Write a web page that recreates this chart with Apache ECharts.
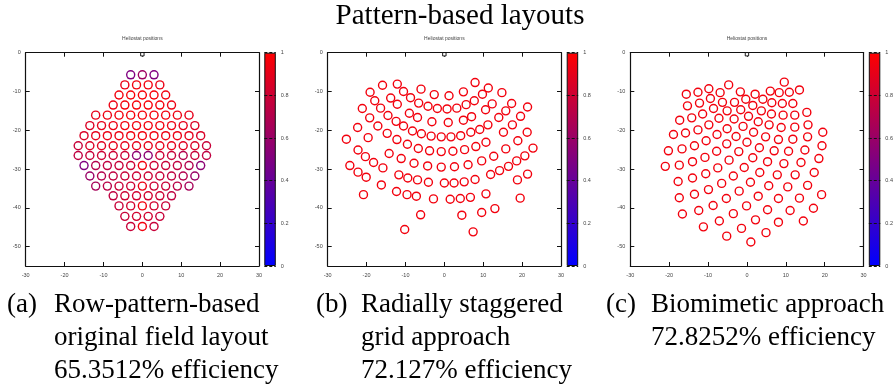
<!DOCTYPE html>
<html>
<head>
<meta charset="utf-8">
<script src="https://cdn.jsdelivr.net/npm/echarts@6/dist/echarts.min.js"></script>
<style>
  html, body { margin: 0; padding: 0; background: #fff; }
  #chart { width: 896px; height: 388px; }
</style>
</head>
<body>
<div id="chart"></div>
<script>
// ---------------------------------------------------------------------------
// Heliostat field layouts, coordinates in metres relative to the tower.
// ---------------------------------------------------------------------------

// (a) row pattern: [x, y, efficiency]
const fieldA = [
  [-3, -5.7, 0.50], [0, -5.7, 0.62], [3, -5.7, 0.50],
  [-4.5, -8.3, 0.92], [-1.5, -8.3, 0.95], [1.5, -8.3, 0.95], [4.5, -8.3, 0.92],
  [-6, -10.9, 0.95], [-3, -10.9, 0.97], [0, -10.9, 0.97], [3, -10.9, 0.97], [6, -10.9, 0.95],
  [-7.5, -13.5, 0.93], [-4.5, -13.5, 0.96], [-1.5, -13.5, 0.97], [1.5, -13.5, 0.97], [4.5, -13.5, 0.96], [7.5, -13.5, 0.93],
  [-12, -16.1, 0.90], [-9, -16.1, 0.93], [-6, -16.1, 0.95], [-3, -16.1, 0.96], [0, -16.1, 0.96], [3, -16.1, 0.96], [6, -16.1, 0.95], [9, -16.1, 0.93], [12, -16.1, 0.90],
  [-13.5, -18.8, 0.86], [-10.5, -18.8, 0.90], [-7.5, -18.8, 0.93], [-4.5, -18.8, 0.95], [-1.5, -18.8, 0.95], [1.5, -18.8, 0.95], [4.5, -18.8, 0.95], [7.5, -18.8, 0.93], [10.5, -18.8, 0.90], [13.5, -18.8, 0.86],
  [-15, -21.4, 0.85], [-12, -21.4, 0.90], [-9, -21.4, 0.92], [-6, -21.4, 0.93], [-3, -21.4, 0.94], [0, -21.4, 0.95], [3, -21.4, 0.94], [6, -21.4, 0.93], [9, -21.4, 0.92], [12, -21.4, 0.90], [15, -21.4, 0.85],
  [-16.5, -24.0, 0.78], [-13.5, -24.0, 0.85], [-10.5, -24.0, 0.88], [-7.5, -24.0, 0.90], [-4.5, -24.0, 0.90], [-1.5, -24.0, 0.90], [1.5, -24.0, 0.90], [4.5, -24.0, 0.90], [7.5, -24.0, 0.90], [10.5, -24.0, 0.88], [13.5, -24.0, 0.85], [16.5, -24.0, 0.78],
  [-16.5, -26.5, 0.75], [-13.5, -26.5, 0.78], [-10.5, -26.5, 0.80], [-7.5, -26.5, 0.80], [-4.5, -26.5, 0.80], [-1.5, -26.5, 0.55], [1.5, -26.5, 0.55], [4.5, -26.5, 0.80], [7.5, -26.5, 0.78], [10.5, -26.5, 0.70], [13.5, -26.5, 0.78], [16.5, -26.5, 0.75],
  [-15, -29.1, 0.50], [-12, -29.1, 0.70], [-9, -29.1, 0.75], [-6, -29.1, 0.78], [-3, -29.1, 0.80], [0, -29.1, 0.95], [3, -29.1, 0.80], [6, -29.1, 0.78], [9, -29.1, 0.75], [12, -29.1, 0.70], [15, -29.1, 0.55],
  [-13.5, -31.8, 0.60], [-10.5, -31.8, 0.70], [-7.5, -31.8, 0.75], [-4.5, -31.8, 0.78], [-1.5, -31.8, 0.80], [1.5, -31.8, 0.80], [4.5, -31.8, 0.78], [7.5, -31.8, 0.75], [10.5, -31.8, 0.70], [13.5, -31.8, 0.60],
  [-12, -34.4, 0.65], [-9, -34.4, 0.72], [-6, -34.4, 0.78], [-3, -34.4, 0.80], [0, -34.4, 0.92], [3, -34.4, 0.80], [6, -34.4, 0.78], [9, -34.4, 0.72], [12, -34.4, 0.65],
  [-7.5, -36.9, 0.75], [-4.5, -36.9, 0.80], [-1.5, -36.9, 0.82], [1.5, -36.9, 0.82], [4.5, -36.9, 0.80], [7.5, -36.9, 0.75],
  [-6, -39.5, 0.78], [-3, -39.5, 0.82], [0, -39.5, 0.95], [3, -39.5, 0.82], [6, -39.5, 0.78],
  [-4.5, -42.2, 0.78], [-1.5, -42.2, 0.82], [1.5, -42.2, 0.82], [4.5, -42.2, 0.78],
  [-3, -44.8, 0.78], [0, -44.8, 0.95], [3, -44.8, 0.78]
];

// (b) radially staggered grid: [x, y]
const fieldB = [
  [-15.9, -8.4], [-12.1, -8.1], [-6.0, -9.4], [-2.6, -10.8], [1.2, -11.1], [4.9, -10.1], [7.9, -7.7], [11.3, -9.1], [14.8, -10.3],
  [-19.1, -10.2], [-10.5, -10.0],
  [-17.9, -12.4], [-13.8, -11.7], [-12.1, -13.3], [-8.7, -11.6], [-6.6, -13.0], [-4.2, -13.8], [-1.8, -14.4], [0.7, -14.5],
  [3.2, -14.3], [5.6, -13.4], [7.7, -12.4], [9.8, -10.7], [12.3, -13.2], [17.3, -13.1], [21.4, -14.0],
  [-21.1, -14.4], [-16.4, -14.3], [-14.5, -16.2], [-12.4, -17.7], [-9.0, -15.6], [-6.9, -16.7], [-3.2, -17.8], [1.0, -18.0],
  [4.9, -17.4], [7.0, -16.5], [10.6, -14.7], [11.2, -18.6], [15.8, -15.0], [14.0, -16.7], [19.6, -16.4], [17.5, -18.6],
  [-22.3, -19.3], [-19.2, -16.8], [-17.1, -18.9], [-14.7, -20.8], [-10.5, -18.9], [-8.2, -20.2], [-5.9, -20.9], [-3.4, -21.5],
  [-0.8, -21.7], [1.7, -21.7], [4.2, -21.4], [6.8, -20.5], [9.1, -19.8], [15.2, -20.5], [21.3, -20.5],
  [-25.2, -22.3], [-19.6, -21.9], [-12.2, -22.4], [-9.5, -23.6], [-6.7, -24.7], [-3.8, -25.3], [-0.8, -25.5], [2.2, -25.4],
  [5.2, -25.0], [8.1, -24.2], [10.7, -23.1], [15.8, -24.8], [18.9, -22.7], [22.8, -24.6],
  [-22.2, -25.1], [-20.3, -26.8], [-18.2, -28.3], [-14.2, -26.0], [-11.1, -27.3], [-7.8, -28.5], [-4.3, -29.2], [-0.8, -29.5],
  [2.6, -29.4], [6.1, -28.9], [9.6, -27.9], [12.7, -26.7], [18.6, -27.9], [20.7, -26.6],
  [-24.3, -29.1], [-22.2, -30.8], [-20.1, -32.1], [-15.8, -29.7], [-11.7, -31.5], [-9.4, -32.3], [-6.9, -32.8], [-4.1, -33.4],
  [0.0, -33.6], [2.5, -33.6], [5.1, -33.3], [7.9, -32.7], [11.9, -31.4], [14.2, -30.4], [16.5, -29.3], [18.8, -32.8], [21.4, -31.3],
  [-20.8, -36.6], [-16.2, -34.1], [-12.3, -35.8], [-9.6, -36.6], [-7.2, -37.0], [-2.8, -37.7], [1.5, -37.8], [4.1, -37.6],
  [6.7, -37.3], [10.7, -36.4], [19.5, -37.5],
  [-6.1, -41.8], [4.5, -41.9], [9.6, -41.2], [13.0, -40.2],
  [-10.2, -45.6], [7.4, -46.2]
];

// (c) biomimetic spiral: [x, y]
const fieldC = [
  [-15.6, -10.7], [-12.6, -10.2], [-9.8, -9.3], [-6.9, -10.3], [-4.7, -8.3], [-1.7, -10.1], [2.1, -10.7], [6.0, -9.9],
  [8.3, -10.3], [9.6, -7.6], [10.9, -10.2], [13.5, -9.6],
  [-15.3, -13.7], [-12.2, -13.0], [-9.4, -11.8], [-6.3, -12.8], [-3.2, -12.8], [-0.3, -12.0], [1.5, -13.6], [4.1, -12.0],
  [6.4, -12.9], [9.1, -13.1], [11.8, -13.1],
  [-17.3, -17.4], [-14.2, -16.8], [-11.4, -15.8], [-8.6, -14.4], [-5.1, -15.0], [-1.6, -14.7], [0.4, -16.4], [3.7, -15.0],
  [6.3, -15.8], [9.3, -16.1], [12.3, -16.1], [15.4, -15.4],
  [-18.9, -21.1], [-15.8, -20.7], [-12.6, -19.9], [-9.8, -18.6], [-7.2, -16.9], [-3.3, -17.1], [-1.0, -19.0], [2.9, -17.8],
  [5.7, -18.6], [8.8, -19.3], [12.3, -19.2], [15.7, -18.6], [19.5, -20.5],
  [-20.2, -25.3], [-16.7, -24.8], [-13.5, -24.0], [-10.5, -22.7], [-7.7, -21.1], [-5.1, -19.6], [-2.8, -21.6], [0.0, -23.1],
  [1.7, -20.5], [4.8, -21.7], [8.1, -22.4], [11.8, -22.3], [15.6, -21.7], [19.3, -24.0],
  [-7.8, -25.4], [-5.2, -23.5], [-2.1, -25.5], [3.2, -24.5], [7.0, -25.3], [10.7, -25.4], [14.9, -25.1],
  [-21.0, -29.3], [-17.4, -29.0], [-14.0, -28.1], [-10.8, -27.0], [-7.5, -29.7], [-4.6, -27.7], [-0.7, -29.6], [1.5, -27.1],
  [5.3, -28.1], [9.5, -28.6], [13.9, -28.3], [18.5, -27.3],
  [-17.7, -33.2], [-14.0, -32.3], [-10.6, -31.2], [-6.5, -33.7], [-3.5, -31.8], [0.9, -33.4], [3.3, -30.9], [7.8, -31.5],
  [12.4, -31.5], [17.3, -30.9],
  [-17.4, -37.4], [-13.5, -36.5], [-9.9, -35.3], [-5.3, -37.6], [-2.0, -35.7], [2.9, -37.0], [5.6, -34.3], [8.1, -37.6],
  [10.5, -34.6], [13.5, -37.5], [15.6, -34.2], [19.2, -36.6],
  [-16.6, -41.6], [-12.4, -40.7], [-8.7, -39.4], [-3.5, -41.5], [-0.1, -39.5], [5.3, -40.5], [11.1, -40.7], [17.1, -40.1],
  [-11.2, -44.9], [-7.1, -43.4], [-1.4, -45.3], [2.2, -43.1], [8.1, -43.7], [14.5, -43.4],
  [-5.2, -47.3], [4.9, -46.4],
  [1.0, -48.8]
];

// Tower position
const tower = [[0, -0.4]];

// Axis ticks and colour scale
const xRange = [-30, 30];
const yRange = [-55, 0];
const yTickValues = [0, -10, -20, -30, -40, -50];
const colorbarRange = [0, 1];
const colormap = ['#0000ff', '#ff0000'];
const uniformEfficiencyColor = '#f2000d';

// Texts
const mainTitle = 'Pattern-based layouts';
const panelTitle = 'Heliostat positions';
const captionTags = ['(a)', '(b)', '(c)'];
const captionLines = [
  ['Row-pattern-based', 'original field layout', '65.3512% efficiency'],
  ['Radially staggered', 'grid approach', '72.127% efficiency'],
  ['Biomimetic approach', '72.8252% efficiency']
];

// ---------------------------------------------------------------------------
// Layout
// ---------------------------------------------------------------------------
const plotLefts = [25.7, 327.7, 630.3];
const barLefts = [264.3, 566.7, 868.8];
const plotTop = 52.7, plotW = 233.3, plotH = 213.3, barW = 11.5;
const tagLefts = [7, 316, 606];
const blockLefts = [54, 361, 651];
const lineCenters = [305, 338, 371];
const ringOuter = 9.4, ringInner = 6.6;

const tickFont = { fontSize: 5.5, color: '#444', fontFamily: 'Liberation Sans' };
const frameLine = { show: true, onZero: false, lineStyle: { color: '#111', width: 1.2 } };
const tickStyle = { inside: true, length: 4, lineStyle: { color: '#111' } };

const grids = [], xAxes = [], yAxes = [], series = [];
const fields = [fieldA, fieldB, fieldC];

fields.forEach((pts, p) => {
  grids.push({ left: plotLefts[p], top: plotTop, width: plotW, height: plotH });
  const common = { gridIndex: p, type: 'value', splitLine: { show: false }, axisLine: frameLine };
  xAxes.push(Object.assign({}, common, {
    position: 'bottom', min: xRange[0], max: xRange[1], interval: 10,
    axisTick: tickStyle,
    axisLabel: Object.assign({ margin: 6 }, tickFont)
  }));
  xAxes.push(Object.assign({}, common, {
    position: 'top', min: xRange[0], max: xRange[1], interval: 10,
    axisTick: tickStyle, axisLabel: { show: false }
  }));
  yAxes.push(Object.assign({}, common, {
    position: 'left', min: yRange[0], max: yRange[1],
    axisTick: Object.assign({ customValues: yTickValues }, tickStyle),
    axisLabel: Object.assign({ margin: 5, customValues: yTickValues }, tickFont)
  }));
  yAxes.push(Object.assign({}, common, {
    position: 'right', min: yRange[0], max: yRange[1],
    axisTick: Object.assign({ customValues: yTickValues }, tickStyle),
    axisLabel: { show: false }
  }));
});

// (a) rings: a disc coloured by the efficiency scale, with a white core on top
series.push({
  type: 'scatter', xAxisIndex: 0, yAxisIndex: 0, data: fieldA,
  symbol: 'circle', symbolSize: ringOuter, clip: false, silent: true,
  itemStyle: { opacity: 1 }
});
series.push({
  type: 'scatter', xAxisIndex: 0, yAxisIndex: 0, data: fieldA,
  symbol: 'circle', symbolSize: ringInner, clip: false, silent: true,
  itemStyle: { color: '#fff', opacity: 1 }
});
// (b), (c) rings
[[fieldB, 2], [fieldC, 4]].forEach(function (f) {
  series.push({
    type: 'scatter', xAxisIndex: f[1], yAxisIndex: f[1], data: f[0],
    symbol: 'circle', symbolSize: (ringOuter + ringInner) / 2, clip: false, silent: true,
    itemStyle: {
      color: 'rgba(0,0,0,0)', borderColor: uniformEfficiencyColor,
      borderWidth: (ringOuter - ringInner) / 2, opacity: 1
    }
  });
});
// towers
[0, 2, 4].forEach(function (ax) {
  series.push({
    type: 'scatter', xAxisIndex: ax, yAxisIndex: ax, data: tower, z: 5,
    symbol: 'rect', symbolSize: 3.4, clip: false, silent: true,
    itemStyle: { color: '#fff', borderColor: '#000', borderWidth: 0.9, opacity: 1 }
  });
});

// colour bars
const gradient = new echarts.graphic.LinearGradient(0, 0, 0, 1, [
  { offset: 0, color: colormap[1] }, { offset: 1, color: colormap[0] }
]);
barLefts.forEach(function (left, p) {
  const gi = 3 + p;
  grids.push({ left: left, top: plotTop, width: barW, height: plotH });
  xAxes.push({ gridIndex: gi, type: 'category', data: ['scale'], show: false });
  yAxes.push({
    gridIndex: gi, type: 'value', position: 'right', z: 5,
    min: colorbarRange[0], max: colorbarRange[1], interval: 0.2,
    axisLine: { show: false }, axisTick: { show: false },
    axisLabel: Object.assign({ margin: 5 }, tickFont),
    splitLine: { show: true, lineStyle: { color: '#111', width: 1, type: [3, 2] } }
  });
  series.push({
    type: 'bar', xAxisIndex: 6 + p, yAxisIndex: 6 + p, data: [colorbarRange[1]],
    barWidth: '100%', silent: true,
    itemStyle: { color: gradient, borderColor: '#111', borderWidth: 1 }
  });
});

// texts
const serif = '"Liberation Serif", serif';
const graphic = [{
  type: 'text', x: 460, y: 16,
  style: { text: mainTitle, font: '29px ' + serif, fill: '#000', align: 'center', verticalAlign: 'middle' }
}];
plotLefts.forEach(function (left, p) {
  graphic.push({
    type: 'text', x: left + plotW / 2, y: 39,
    style: { text: panelTitle, font: '5px "Liberation Sans"', fill: '#444', align: 'center', verticalAlign: 'middle' }
  });
  graphic.push({
    type: 'text', x: tagLefts[p], y: lineCenters[0],
    style: { text: captionTags[p], font: '27px ' + serif, fill: '#000', align: 'left', verticalAlign: 'middle' }
  });
  captionLines[p].forEach(function (line, i) {
    graphic.push({
      type: 'text', x: blockLefts[p], y: lineCenters[i],
      style: { text: line, font: '27px ' + serif, fill: '#000', align: 'left', verticalAlign: 'middle' }
    });
  });
});

const chart = echarts.init(document.getElementById('chart'), null, { renderer: 'canvas' });
chart.setOption({
  animation: false,
  backgroundColor: '#fff',
  grid: grids,
  xAxis: xAxes,
  yAxis: yAxes,
  visualMap: [{
    type: 'continuous', show: false, seriesIndex: 0, dimension: 2,
    min: colorbarRange[0], max: colorbarRange[1], inRange: { color: colormap }
  }],
  series: series,
  graphic: graphic
});
</script>
</body>
</html>
